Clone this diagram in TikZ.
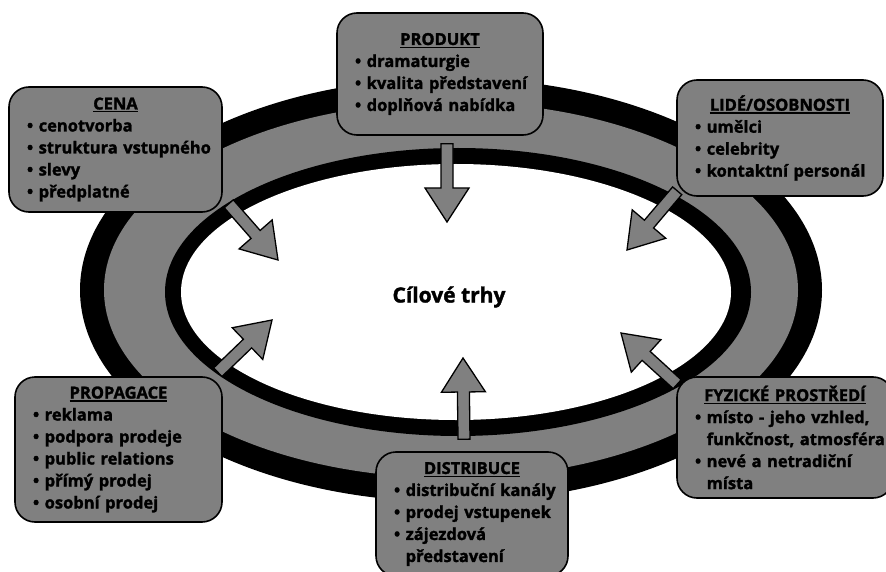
\documentclass[tikz,border=0pt]{standalone}
\usepackage{fontspec}
\setmainfont{Open Sans}[BoldFeatures={FakeBold=1.6}]
\usetikzlibrary{calc}

\definecolor{ringgray}{RGB}{128,128,128}

% underlined box heading, bullet line, continued line
\newcommand{\titleline}[1]{\setbox0\hbox{#1}\centerline{\rlap{\rule[-3pt]{\wd0}{1.4pt}}\box0}}
\newcommand{\point}[1]{\mbox{\textbullet\ #1}}
\newcommand{\cont}[1]{\mbox{\phantom{\textbullet\ }#1}}

% block arrow from #1 to #2
\newcommand{\flowarrow}[2]{%
  \coordinate (#2-neck) at ($(#2)!34pt!(#1)$);
  \draw[blockarrow] ($(#1)!6pt!90:(#2)$) -- ($(#2-neck)!6pt!-90:(#1)$)
    -- ($(#2-neck)!22pt!-90:(#1)$) -- (#2) -- ($(#2-neck)!22pt!90:(#1)$)
    -- ($(#2-neck)!6pt!90:(#1)$) -- ($(#1)!6pt!-90:(#2)$) -- cycle;
}

\begin{document}
\begin{tikzpicture}[x=1pt,y=-1pt,
    infobox/.style={draw=black,line width=1.6pt,fill=ringgray,rounded corners=20pt,
      inner xsep=18pt,inner ysep=4pt,align=left,
      font=\fontsize{16.5}{22}\selectfont\bfseries},
    blockarrow/.style={draw=black,line width=1.3pt,fill=ringgray,line join=miter}]
  \clip (0,0) rectangle (886,572);

  % the two rings
  \fill[black] (451,290) ellipse [x radius=371pt,y radius=212pt];
  \fill[ringgray] (451,290) ellipse [x radius=347pt,y radius=188pt];
  \fill[black] (458,292) ellipse [x radius=293pt,y radius=144pt];
  \fill[white] (456,292) ellipse [x radius=275pt,y radius=128pt];

  \node[font=\fontsize{21}{24}\selectfont\bfseries] (trhy) at (449,297) {Cílové trhy};

  % boxes
  \node[infobox,text width=170pt,minimum height=122] (produkt) at (440,74) {\titleline{PRODUKT}
    \point{dramaturgie}\\
    \point{kvalita představení}\\
    \point{doplňová nabídka}};
  \node[infobox,text width=177pt,minimum height=125] (cena) at (115.5,149.5) {\titleline{CENA}
    \point{cenotvorba}\\
    \point{struktura vstupného}\\
    \point{slevy}\\
    \point{předplatné}};
  \node[infobox,text width=170pt,minimum height=116] (lide) at (780,138) {\titleline{LIDÉ/OSOBNOSTI}
    \point{umělci}\\
    \point{celebrity}\\
    \point{kontaktní personál}};
  \node[infobox,text width=171pt,minimum height=145] (propagace) at (118.5,449.5) {\titleline{PROPAGACE}
    \point{reklama}\\
    \point{podpora prodeje}\\
    \point{public relations}\\
    \point{přímý prodej}\\
    \point{osobní prodej}};
  \node[infobox,text width=156pt,minimum height=124] (distribuce) at (472,514) {\titleline{DISTRIBUCE}
    \point{distribuční kanály}\\
    \point{prodej vstupenek}\\
    \point{zájezdová}\\
    \cont{představení}};
  \node[infobox,text width=180pt,minimum height=121] (fyzicke) at (785,437.5) {\titleline{FYZICKÉ PROSTŘEDÍ}
    \point{místo - jeho vzhled,}\\
    \cont{funkčnost, atmosféra}\\
    \point{nevé a netradiční}\\
    \cont{místa}};

  % arrows towards the target markets
  \coordinate (produkt-from) at ($(produkt.south)+(7,8)$);
  \coordinate (produkt-to) at (447,222);
  \coordinate (cena-from) at ($(cena.south east)+(6,-9)$);
  \coordinate (cena-to) at (278,260);
  \coordinate (lide-from) at ($(lide.south west)+(1,-6)$);
  \coordinate (lide-to) at (627,250);
  \coordinate (propagace-from) at ($(propagace.north east)+(-5,-4)$);
  \coordinate (propagace-to) at (272,320);
  \coordinate (fyzicke-from) at ($(fyzicke.north west)+(1,8)$);
  \coordinate (fyzicke-to) at (621,333);
  \coordinate (distribuce-from) at ($(distribuce.north)+(-8,-12)$);
  \coordinate (distribuce-to) at (463,358);
  \flowarrow{produkt-from}{produkt-to}
  \flowarrow{cena-from}{cena-to}
  \flowarrow{lide-from}{lide-to}
  \flowarrow{propagace-from}{propagace-to}
  \flowarrow{fyzicke-from}{fyzicke-to}
  \flowarrow{distribuce-from}{distribuce-to}
\end{tikzpicture}
\end{document}
